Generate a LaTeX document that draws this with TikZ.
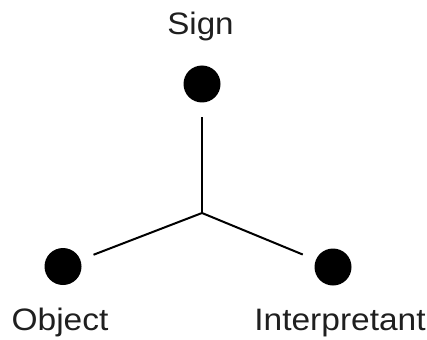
\documentclass[tikz,border=0pt]{standalone}
\usepackage{fontspec}
\setmainfont{Liberation Sans}
\begin{document}
\begin{tikzpicture}[x=1pt,y=-1pt,
  dot/.style={circle,fill=black,inner sep=0pt,minimum size=37pt},
  lbl/.style={anchor=base,inner sep=0pt,text=black!88,font=\fontsize{31}{31}\selectfont},
  conn/.style={line width=2pt,shorten >=14pt}]
\useasboundingbox (0,0) rectangle (427,339);
\node[dot] (s) at (202,84) {};
\node[dot] (o) at (63,266.5) {};
\node[dot] (i) at (333,267) {};
\coordinate (j) at (202,213);
\node[lbl] (ls) at (200.5,35) {\scalebox{1.07}[1]{Sign}};
\node[lbl] (lo) at (60,330) {\scalebox{1.08}[1]{Object}};
\node[lbl] (li) at (340,330) {\scalebox{1.08}[1]{Interpretant}};
\draw[conn] (j) -- (s);
\draw[conn] (j) -- (o);
\draw[conn] (j) -- (i);
\end{tikzpicture}
\end{document}
